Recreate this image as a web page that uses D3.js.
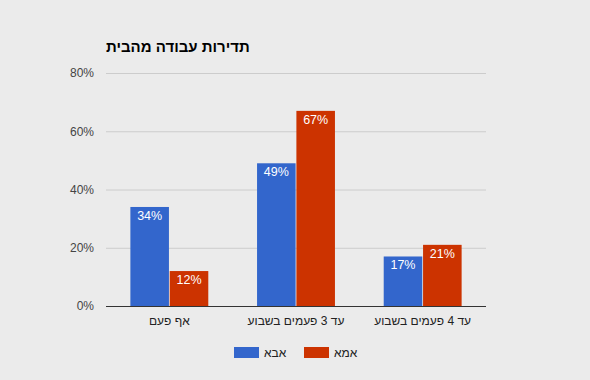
<!DOCTYPE html>
<html><head><meta charset="utf-8">
<script src="https://cdn.jsdelivr.net/npm/d3@7"></script>
<style>
html,body{margin:0;padding:0;background:#ebebeb;}
svg{display:block;font-family:"Liberation Sans",Arial,sans-serif;}
</style></head>
<body>
<svg id="c" width="590" height="380"></svg>
<script>
const title = "תדירות עבודה מהבית";
const categories = ["אף פעם", "עד 3 פעמים בשבוע", "עד 4 פעמים בשבוע"];
const seriesNames = ["אבא", "אמא"];
const dadValues = [34, 49, 17];
const momValues = [12, 67, 21];
const yTicks = [0, 20, 40, 60, 80];
const colors = ["#3366cc", "#cc3300"];

const svg = d3.select("#c");
const pLeft = 106, pRight = 486, pTop = 73, pBottom = 306;

const x0 = d3.scaleBand().domain(categories).range([pLeft, pRight]).paddingInner(0.385).paddingOuter(0.1925);
const x1 = d3.scaleBand().domain(seriesNames).range([0, x0.bandwidth()]).paddingInner(0.02);
const y = d3.scaleLinear().domain([0, 80]).range([pBottom, pTop]);

svg.append("text").attr("x", pLeft).attr("y", 52).attr("font-size", 15).attr("font-weight", "bold")
  .attr("fill", "#000").attr("text-anchor", "start").text(title);

// grid
const yAxis = d3.axisLeft(y).tickValues(yTicks).tickFormat(d => d + "%").tickSize(-(pRight - pLeft)).tickPadding(12);
const g = svg.append("g").attr("transform", `translate(${pLeft},0)`).call(yAxis);
g.select(".domain").remove();
g.selectAll(".tick line").attr("stroke", "#cccccc");
g.selectAll(".tick text").attr("fill", "#444").attr("font-size", 12).attr("font-family", "Liberation Sans, Arial, sans-serif");

const data = categories.map((c, i) => ({c, vals: [dadValues[i], momValues[i]]}));
const groups = svg.append("g").selectAll("g").data(data).join("g")
  .attr("transform", d => `translate(${x0(d.c)},0)`);
groups.selectAll("rect").data(d => d.vals.map((v, j) => ({v, s: seriesNames[j], j}))).join("rect")
  .attr("x", d => x1(d.s)).attr("width", x1.bandwidth())
  .attr("y", d => y(d.v)).attr("height", d => y(0) - y(d.v))
  .attr("fill", d => colors[d.j]);
groups.selectAll("text").data(d => d.vals.map((v, j) => ({v, s: seriesNames[j], j}))).join("text")
  .attr("x", d => x1(d.s) + x1.bandwidth() / 2).attr("y", d => y(d.v) + 13)
  .attr("text-anchor", "middle").attr("fill", "#fff").attr("font-size", 12.5).text(d => d.v + "%");

// baseline
svg.append("line").attr("x1", pLeft).attr("x2", pRight).attr("y1", pBottom + 0.5).attr("y2", pBottom + 0.5)
  .attr("stroke", "#333").attr("stroke-width", 1);

// x labels
const xAxis = d3.axisBottom(x0).tickSize(0).tickPadding(10);
const xg = svg.append("g").attr("transform", `translate(0,${pBottom})`).call(xAxis);
xg.select(".domain").remove();
xg.selectAll(".tick text").attr("fill", "#222").attr("font-size", 12)
  .attr("font-family", "Liberation Sans, Arial, sans-serif");

// legend
const legendX = [234, 304];
const lg = svg.append("g").selectAll("g").data(seriesNames).join("g")
  .attr("transform", (d, i) => `translate(${legendX[i]},347)`);
lg.append("rect").attr("width", 25).attr("height", 11).attr("fill", (d, i) => colors[i]);
lg.append("text").attr("x", 30).attr("y", 10).attr("font-size", 12).attr("fill", "#222")
  .attr("text-anchor", "start").text(d => d);
</script>
</body></html>
